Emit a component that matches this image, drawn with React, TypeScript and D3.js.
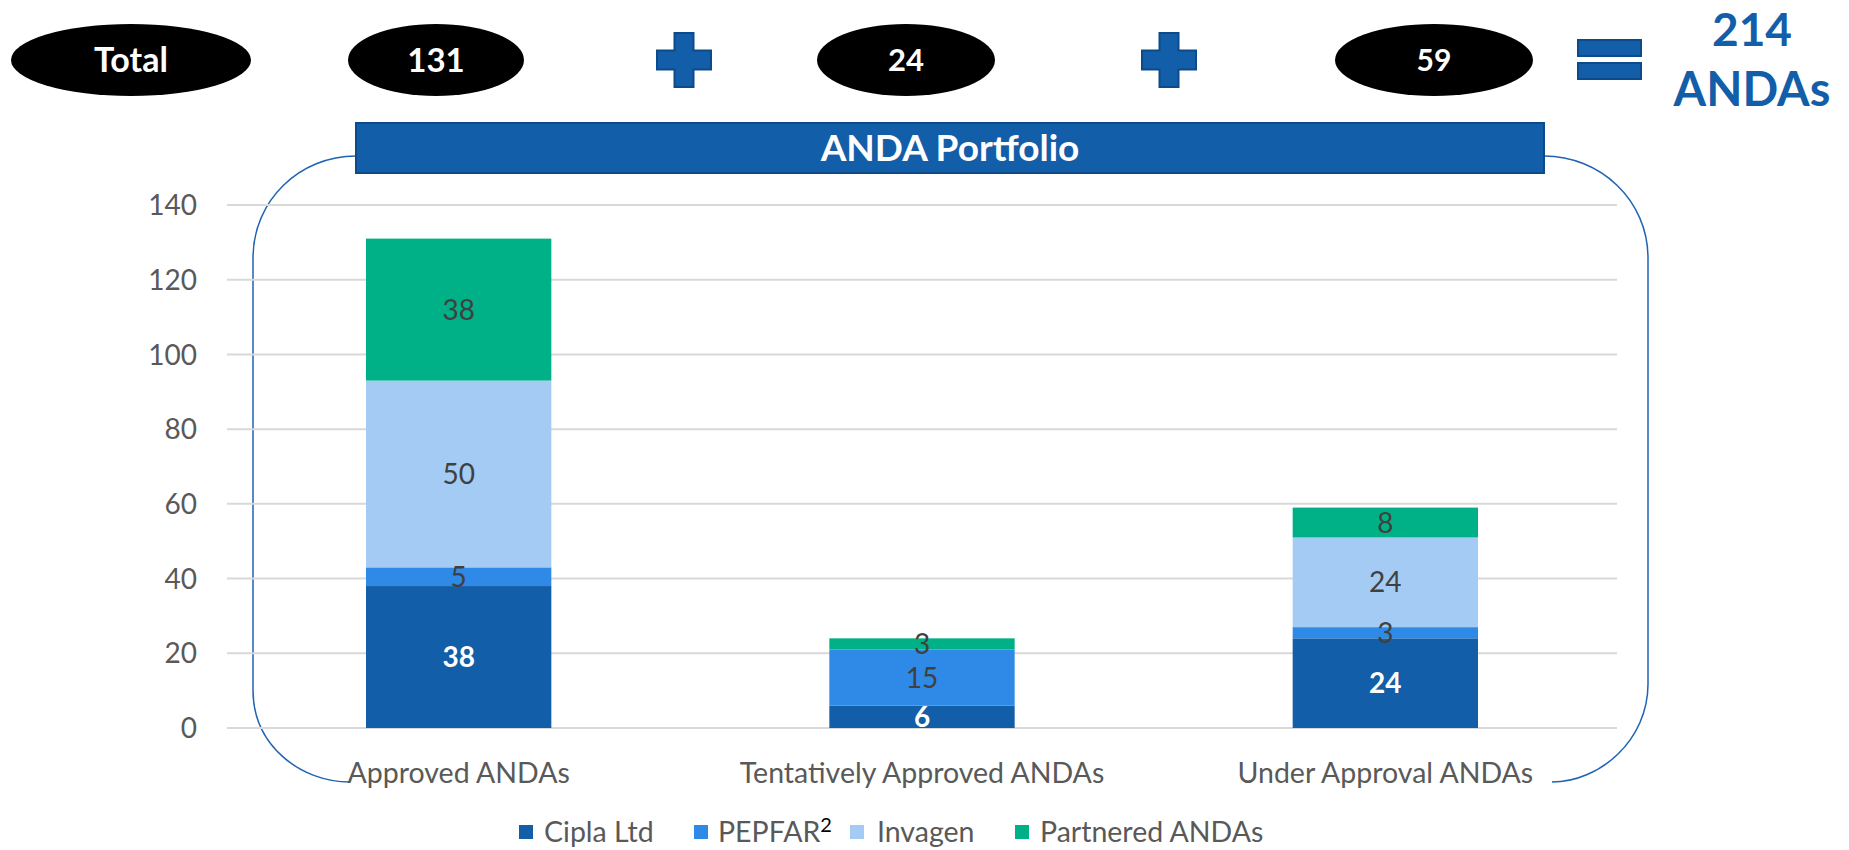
import React from "react";
import * as d3 from "d3";

const categories = ["Approved ANDAs", "Tentatively Approved ANDAs", "Under Approval ANDAs"];
const seriesNames = ["Cipla Ltd", "PEPFAR", "Invagen", "Partnered ANDAs"];
const ciplaLtd = [38, 6, 24];
const pepfar = [5, 15, 3];
const invagen = [50, 0, 24];
const partnered = [38, 3, 8];
const yTicks = [0, 20, 40, 60, 80, 100, 120, 140];
const seriesColors = ["#135EA8", "#2E8AE6", "#A3CBF3", "#00B087"];
const labelColors = ["#FFFFFF", "#404040", "#404040", "#404040"];
const grandTotalLabel = "ANDAs";
const headerFirst = "Total";
const bannerTitle = "ANDA Portfolio";

const FONT = "Lato, 'Open Sans', sans-serif";

export default function App() {
  const values = [ciplaLtd, pepfar, invagen, partnered];
  const rows = categories.map((c, i) => {
    const r: any = { category: c };
    seriesNames.forEach((s, j) => (r[s] = values[j][i]));
    return r;
  });
  const stack = d3.stack<any>().keys(seriesNames)(rows);
  const totals = categories.map((_, i) => d3.sum(values, (v) => v[i]));
  const grand = d3.sum(totals);

  const y = d3.scaleLinear().domain([0, 140]).range([728, 205]);
  const x = d3.scaleBand().domain(categories).range([227, 1617]).padding(0);
  const bw = x.bandwidth() * 0.4;

  const headerItems = [
    { text: headerFirst, cx: 131, rx: 120, fs: 34 },
    { text: String(totals[0]), cx: 436, rx: 88, fs: 33 },
    { text: String(totals[1]), cx: 906, rx: 89, fs: 31 },
    { text: String(totals[2]), cx: 1434, rx: 99, fs: 30 },
  ];
  const plusX = [684, 1169];

  const legendItems = [
    { name: seriesNames[0], sx: 519, tx: 544 },
    { name: "PEPFAR", sx: 694, tx: 718, sup: "2" },
    { name: seriesNames[2], sx: 850, tx: 877 },
    { name: seriesNames[3], sx: 1015, tx: 1040 },
  ];

  const plus = (cx: number, cy: number) => {
    const s = 27, t = 9.5;
    const p = [
      [cx - t, cy - s], [cx + t, cy - s], [cx + t, cy - t], [cx + s, cy - t], [cx + s, cy + t],
      [cx + t, cy + t], [cx + t, cy + s], [cx - t, cy + s], [cx - t, cy + t], [cx - s, cy + t],
      [cx - s, cy - t], [cx - t, cy - t],
    ];
    return "M" + p.map((q) => q.join(",")).join("L") + "Z";
  };

  return (
    <svg width={1849} height={850} style={{ position: "absolute", left: 0, top: 0, background: "#fff" }} fontFamily={FONT}>
      {/* header */}
      {headerItems.map((h, i) => (
        <g key={i}>
          <ellipse cx={h.cx} cy={60} rx={h.rx} ry={36} fill="#000" />
          <text x={h.cx} y={60} dy="0.36em" textAnchor="middle" fill="#fff" fontWeight={700} fontSize={h.fs}>
            {h.text}
          </text>
        </g>
      ))}
      {plusX.map((px, i) => (
        <path key={i} d={plus(px, 60)} fill="#135EA8" stroke="#0C4A8A" strokeWidth={2} />
      ))}
      <rect x={1578} y={40} width={63} height={16} fill="#135EA8" stroke="#0C4A8A" strokeWidth={2} />
      <rect x={1578} y={63} width={63} height={16} fill="#135EA8" stroke="#0C4A8A" strokeWidth={2} />
      <text x={1752} y={46} textAnchor="middle" fill="#135EA8" fontWeight={700} fontSize={46}>
        {grand}
      </text>
      <text x={1752} y={106} textAnchor="middle" fill="#135EA8" fontWeight={700} fontSize={47}>
        {grandTotalLabel}
      </text>

      {/* bracket */}
      <path d="M356,156 C300,156 253,200 253,258 L253,690 C253,745 300,782 350,782" fill="none" stroke="#1F63B2" strokeWidth={1.5} />
      <path d="M1544,156 C1600,156 1648,200 1648,258 L1648,684 C1648,740 1600,782 1552,782" fill="none" stroke="#1F63B2" strokeWidth={1.5} />

      {/* banner */}
      <rect x={356} y={123} width={1188} height={50} fill="#135EA8" stroke="#0C4A8A" strokeWidth={2} />
      <text x={950} y={148} dy="0.36em" textAnchor="middle" fill="#fff" fontWeight={700} fontSize={37}>
        {bannerTitle}
      </text>

      {/* gridlines */}
      {yTicks.map((t) => (
        <g key={t}>
          <line x1={227} x2={1617} y1={y(t)} y2={y(t)} stroke="#D9D9D9" strokeWidth={2} />
          <text x={197} y={y(t)} dy="0.36em" textAnchor="end" fill="#595959" fontSize={28}>
            {t}
          </text>
        </g>
      ))}

      {/* bars */}
      {stack.map((layer, j) => (
        <g key={layer.key}>
          {layer.map((d, i) => {
            const cx = (x(categories[i]) as number) + x.bandwidth() / 2;
            const h = y(d[0]) - y(d[1]);
            return h > 0 ? (
              <rect key={i} x={cx - bw / 2} y={y(d[1])} width={bw} height={h} fill={seriesColors[j]} />
            ) : null;
          })}
        </g>
      ))}
      {stack.map((layer, j) => (
        <g key={"l" + layer.key}>
          {layer.map((d, i) => {
            const v = d[1] - d[0];
            if (v <= 0) return null;
            const cx = (x(categories[i]) as number) + x.bandwidth() / 2;
            return (
              <text key={i} x={cx} y={y((d[0] + d[1]) / 2)} dy="0.36em" textAnchor="middle" fill={labelColors[j]} fontWeight={j === 0 ? 700 : 400} fontSize={28}>
                {v}
              </text>
            );
          })}
        </g>
      ))}

      {/* category labels */}
      {categories.map((c) => (
        <text key={c} x={(x(c) as number) + x.bandwidth() / 2} y={773} dy="0.36em" textAnchor="middle" fill="#595959" fontSize={28.5}>
          {c}
        </text>
      ))}

      {/* legend */}
      {legendItems.map((l, j) => (
        <g key={l.name}>
          <rect x={l.sx} y={825} width={14} height={14} fill={seriesColors[j]} />
          <text x={l.tx} y={832} dy="0.36em" fill="#595959" fontSize={28.5}>
            {l.name}
            {l.sup ? (
              <tspan dy="-10" fontSize={20} fill="#000">
                {l.sup}
              </tspan>
            ) : null}
          </text>
        </g>
      ))}
    </svg>
  );
}
